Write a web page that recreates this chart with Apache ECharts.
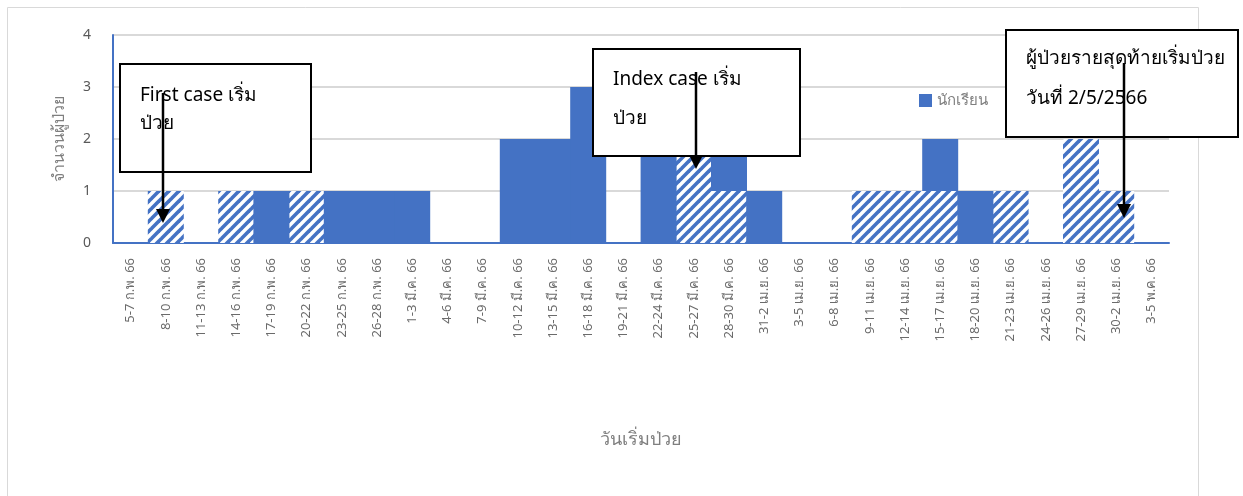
<!DOCTYPE html>
<html>
<head>
<meta charset="utf-8">
<script src="https://cdn.jsdelivr.net/npm/echarts@6/dist/echarts.min.js"></script>
<style>
  html, body { margin: 0; padding: 0; background: #fff; }
  #chart { width: 1243px; height: 496px; }
</style>
</head>
<body>
<div id="chart"></div>
<script>
// categories (3-day onset intervals)
var categories = [
  '5-7 ก.พ. 66', '8-10 ก.พ. 66', '11-13 ก.พ. 66', '14-16 ก.พ. 66', '17-19 ก.พ. 66',
  '20-22 ก.พ. 66', '23-25 ก.พ. 66', '26-28 ก.พ. 66', '1-3 มี.ค. 66', '4-6 มี.ค. 66',
  '7-9 มี.ค. 66', '10-12 มี.ค. 66', '13-15 มี.ค. 66', '16-18 มี.ค. 66', '19-21 มี.ค. 66',
  '22-24 มี.ค. 66', '25-27 มี.ค. 66', '28-30 มี.ค. 66', '31-2 เม.ย. 66', '3-5 เม.ย. 66',
  '6-8 เม.ย. 66', '9-11 เม.ย. 66', '12-14 เม.ย. 66', '15-17 เม.ย. 66', '18-20 เม.ย. 66',
  '21-23 เม.ย. 66', '24-26 เม.ย. 66', '27-29 เม.ย. 66', '30-2 เม.ย. 66', '3-5 พ.ค. 66'
];
// striped series (bottom of the stack)
var stripedData = [0, 1, 0, 1, 0, 1, 0, 0, 0, 0, 0, 0, 0, 0, 0, 0, 2, 1, 0, 0, 0, 1, 1, 1, 0, 1, 0, 2, 1, 0];
// students, solid blue
var studentData = [0, 0, 0, 0, 1, 0, 1, 1, 1, 0, 0, 2, 2, 3, 0, 2, 0, 1, 1, 0, 0, 0, 0, 1, 1, 0, 0, 0, 0, 0];
var yTicks = [0, 1, 2, 3, 4];

var blue = '#4472C4';

function stripeCanvas() {
  var c = document.createElement('canvas');
  c.width = 10; c.height = 10;
  var ctx = c.getContext('2d');
  ctx.fillStyle = '#fff';
  ctx.fillRect(0, 0, 10, 10);
  ctx.strokeStyle = blue;
  ctx.lineWidth = 3.6;
  [[-2, 2, 2, -2], [-2, 12, 12, -2], [8, 12, 12, 8]].forEach(function (l) {
    ctx.beginPath();
    ctx.moveTo(l[0], l[1]);
    ctx.lineTo(l[2], l[3]);
    ctx.stroke();
  });
  return c;
}

function box(x, y, w, h) {
  return {
    type: 'rect', z: 100,
    shape: { x: x, y: y, width: w, height: h },
    style: { fill: '#fff', stroke: '#000', lineWidth: 2 }
  };
}
function label(x, y, text) {
  return {
    type: 'text', z: 101, x: x, y: y,
    style: { text: text, fill: '#000', font: '19px "Noto Sans", sans-serif', textVerticalAlign: 'middle' }
  };
}
function arrow(x, y1, y2) {
  return [{
    type: 'line', z: 102,
    shape: { x1: x, y1: y1, x2: x, y2: y2 - 12 },
    style: { stroke: '#000', lineWidth: 2.5 }
  }, {
    type: 'polygon', z: 102,
    shape: { points: [[x - 7, y2 - 14], [x + 7, y2 - 14], [x, y2]] },
    style: { fill: '#000' }
  }];
}

var chart = echarts.init(document.getElementById('chart'));
var option = {
  animation: false,
  textStyle: { fontFamily: '"Noto Sans", sans-serif' },
  grid: { left: 113, right: 74, top: 35, bottom: 253, containLabel: false },
  legend: {
    data: ['นักเรียน'],
    left: 914, top: 88,
    icon: 'rect', itemWidth: 13, itemHeight: 13, itemGap: 6,
    textStyle: { color: '#7f7f7f', fontSize: 15 }
  },
  xAxis: {
    type: 'category',
    data: categories,
    name: 'วันเริ่มป่วย',
    nameLocation: 'middle',
    nameGap: 188,
    nameTextStyle: { color: '#7f7f7f', fontSize: 18 },
    axisLine: { lineStyle: { color: blue, width: 2 } },
    axisTick: { show: false },
    axisLabel: { rotate: 90, interval: 0, color: '#6b6b6b', fontSize: 13, margin: 15 }
  },
  yAxis: {
    type: 'value',
    min: yTicks[0], max: yTicks[yTicks.length - 1], interval: 1,
    name: 'จำนวนผู้ป่วย',
    nameLocation: 'middle',
    nameGap: 46,
    nameTextStyle: { color: '#7f7f7f', fontSize: 16 },
    axisLine: { show: true, lineStyle: { color: blue, width: 2 } },
    axisLabel: { color: '#595959', fontSize: 14, margin: 22 },
    splitLine: { lineStyle: { color: '#d9d9d9', width: 2 } }
  },
  series: [
    {
      name: 'บุคลากร', type: 'bar', stack: 'cases',
      barWidth: 36,
      itemStyle: { color: { image: stripeCanvas(), repeat: 'repeat' } },
      data: stripedData
    },
    {
      name: 'นักเรียน', type: 'bar', stack: 'cases',
      barWidth: 36,
      itemStyle: { color: blue },
      data: studentData
    }
  ],
  graphic: [
    {
      type: 'rect', z: -1, silent: true,
      shape: { x: 7.5, y: 7.5, width: 1191, height: 500 },
      style: { fill: 'none', stroke: '#d9d9d9', lineWidth: 1 }
    },
    box(120, 64, 191, 108),
    label(140, 96, 'First case เริ่ม'),
    label(140, 124, 'ป่วย'),
    box(593, 49, 207, 107),
    label(613, 80, 'Index case เริ่ม'),
    label(613, 119, 'ป่วย'),
    box(1006, 30, 232, 107),
    label(1026, 59, 'ผู้ป่วยรายสุดท้ายเริ่มป่วย'),
    label(1026, 99, 'วันที่ 2/5/2566')
  ].concat(arrow(163, 93, 223), arrow(696, 72, 169), arrow(1124, 63, 218))
};
chart.setOption(option);
</script>
</body>
</html>
